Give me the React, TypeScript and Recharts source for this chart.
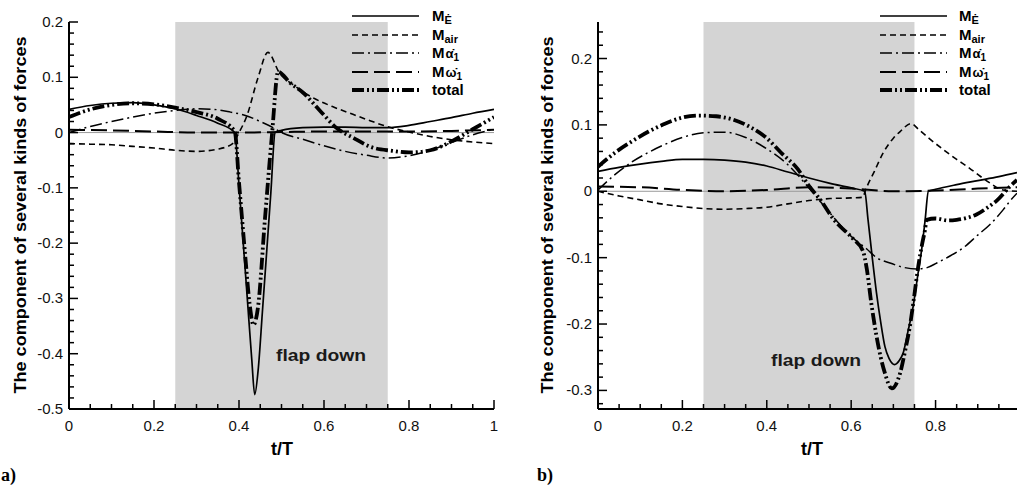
import React from "react";
import { LineChart, Line, XAxis, YAxis, ReferenceArea, ReferenceLine } from "recharts";

type Pt = [number, number];

// ── panel a) : [t/T, value] ─────────────────────────────────────────────────
const ME_A: Pt[] = [
  [0, 0.042], [0.05, 0.049], [0.1, 0.053], [0.15, 0.054], [0.2, 0.05], [0.25, 0.043],
  [0.3, 0.031], [0.35, 0.017], [0.39, 0.0], [0.4, -0.095], [0.41, -0.2], [0.42, -0.305],
  [0.43, -0.41], [0.437, -0.474], [0.445, -0.43], [0.455, -0.325], [0.465, -0.217],
  [0.475, -0.108], [0.485, 0.0], [0.5, 0.004], [0.55, 0.009], [0.6, 0.01], [0.65, 0.01],
  [0.7, 0.009], [0.75, 0.009], [0.8, 0.013], [0.85, 0.02], [0.9, 0.027], [0.95, 0.035], [1, 0.042],
];
const MAIR_A: Pt[] = [
  [0, -0.02], [0.05, -0.021], [0.1, -0.022], [0.15, -0.025], [0.2, -0.028], [0.25, -0.032],
  [0.3, -0.034], [0.35, -0.03], [0.385, -0.02], [0.4, 0.0], [0.418, 0.029], [0.445, 0.1],
  [0.468, 0.145], [0.495, 0.108], [0.53, 0.085], [0.574, 0.063], [0.62, 0.047], [0.668, 0.033],
  [0.71, 0.021], [0.748, 0.011], [0.8, 0.001], [0.85, -0.007], [0.9, -0.013], [0.95, -0.017], [1, -0.02],
];
const MALPHA_A: Pt[] = [
  [0, 0.0], [0.05, 0.011], [0.1, 0.02], [0.15, 0.028], [0.2, 0.035], [0.25, 0.04], [0.3, 0.043],
  [0.34, 0.042], [0.38, 0.037], [0.415, 0.031], [0.45, 0.02], [0.48, 0.009], [0.5, 0.0],
  [0.55, -0.012], [0.6, -0.024], [0.65, -0.034], [0.7, -0.041], [0.75, -0.046], [0.8, -0.042],
  [0.85, -0.032], [0.9, -0.018], [0.95, -0.004], [1, 0.006],
];
const MOMEGA_A: Pt[] = [
  [0, 0.005], [0.1, 0.004], [0.2, 0.002], [0.3, 0.0], [0.4, 0.0], [0.5, 0.001], [0.6, 0.002],
  [0.7, 0.002], [0.8, 0.002], [0.9, 0.003], [1, 0.005],
];
const TOTAL_A: Pt[] = [
  [0, 0.028], [0.05, 0.042], [0.1, 0.05], [0.15, 0.053], [0.2, 0.051], [0.25, 0.045], [0.3, 0.037],
  [0.35, 0.025], [0.39, 0.002], [0.4, -0.09], [0.414, -0.217], [0.425, -0.31], [0.434, -0.348],
  [0.445, -0.314], [0.461, -0.157], [0.478, 0.0], [0.492, 0.11], [0.52, 0.09], [0.551, 0.072],
  [0.59, 0.04], [0.63, 0.008], [0.67, -0.01], [0.71, -0.026], [0.76, -0.033], [0.8, -0.036],
  [0.85, -0.032], [0.9, -0.016], [0.95, 0.006], [1, 0.028],
];

// ── panel b) ────────────────────────────────────────────────────────────────
const ME_B: Pt[] = [
  [0, 0.03], [0.05, 0.036], [0.1, 0.041], [0.15, 0.045], [0.2, 0.048], [0.25, 0.048], [0.3, 0.047],
  [0.35, 0.044], [0.4, 0.038], [0.45, 0.029], [0.5, 0.02], [0.55, 0.012], [0.6, 0.005], [0.632, 0.0],
  [0.64, -0.043], [0.65, -0.1], [0.66, -0.153], [0.67, -0.197], [0.68, -0.234], [0.69, -0.252],
  [0.703, -0.261], [0.714, -0.255], [0.724, -0.242], [0.735, -0.21], [0.747, -0.173], [0.757, -0.13],
  [0.767, -0.088], [0.775, -0.045], [0.783, 0.0], [0.8, 0.003], [0.85, 0.01], [0.9, 0.016],
  [0.95, 0.022], [0.993, 0.028],
];
const MAIR_B: Pt[] = [
  [0, 0.0], [0.05, -0.007], [0.1, -0.013], [0.15, -0.019], [0.2, -0.023], [0.25, -0.026], [0.3, -0.027],
  [0.35, -0.026], [0.4, -0.024], [0.45, -0.019], [0.5, -0.014], [0.55, -0.011], [0.6, -0.01],
  [0.628, -0.009], [0.633, 0.0], [0.655, 0.03], [0.676, 0.058], [0.7, 0.08], [0.716, 0.09],
  [0.742, 0.102], [0.76, 0.093], [0.786, 0.079], [0.82, 0.062], [0.85, 0.048], [0.88, 0.035],
  [0.905, 0.023], [0.93, 0.012], [0.95, 0.004], [0.97, 0.001], [0.993, 0.0],
];
const MALPHA_B: Pt[] = [
  [0, 0.002], [0.04, 0.025], [0.08, 0.044], [0.118, 0.058], [0.16, 0.071], [0.2, 0.081], [0.25, 0.088],
  [0.3, 0.089], [0.35, 0.081], [0.4, 0.064], [0.45, 0.04], [0.5, 0.005], [0.55, -0.033], [0.6, -0.068],
  [0.637, -0.087], [0.66, -0.1], [0.692, -0.108], [0.72, -0.114], [0.755, -0.117], [0.78, -0.115],
  [0.803, -0.108], [0.83, -0.099], [0.866, -0.085], [0.9, -0.066], [0.929, -0.05], [0.96, -0.028],
  [0.976, -0.015], [0.993, -0.003],
];
const MOMEGA_B: Pt[] = [
  [0, 0.007], [0.1, 0.006], [0.2, 0.002], [0.3, 0.0], [0.4, 0.002], [0.5, 0.006], [0.6, 0.004],
  [0.7, 0.0], [0.8, 0.001], [0.9, 0.004], [0.993, 0.006],
];
const TOTAL_B: Pt[] = [
  [0, 0.037], [0.04, 0.058], [0.08, 0.075], [0.12, 0.09], [0.16, 0.102], [0.2, 0.111], [0.24, 0.114],
  [0.28, 0.113], [0.32, 0.108], [0.36, 0.097], [0.4, 0.08], [0.434, 0.058], [0.474, 0.033],
  [0.5, 0.008], [0.526, -0.012], [0.558, -0.042], [0.605, -0.072], [0.628, -0.09], [0.637, -0.117],
  [0.648, -0.17], [0.66, -0.218], [0.67, -0.25], [0.68, -0.274], [0.696, -0.297], [0.716, -0.274],
  [0.728, -0.24], [0.739, -0.204], [0.749, -0.16], [0.759, -0.113], [0.768, -0.08], [0.775, -0.058],
  [0.779, -0.043], [0.8, -0.041], [0.83, -0.044], [0.85, -0.043], [0.875, -0.04], [0.897, -0.035],
  [0.92, -0.026], [0.945, -0.014], [0.976, 0.007], [0.993, 0.017],
];

// axis labels
const A_X_MAJOR = [0, 0.2, 0.4, 0.6, 0.8, 1];
const A_Y_MAJOR = [-0.5, -0.4, -0.3, -0.2, -0.1, 0, 0.1, 0.2];
const B_X_MAJOR = [0, 0.2, 0.4, 0.6, 0.8];
const B_Y_MAJOR = [-0.3, -0.2, -0.1, 0, 0.1, 0.2];
const FLAP = [0.25, 0.75];

const FONT = "'Liberation Sans', Arial, sans-serif";

const STYLES = {
  me: { dash: undefined as string | undefined, width: 1.7 },
  air: { dash: "6 4", width: 1.6 },
  alpha: { dash: "12 4 2 4", width: 1.5 },
  omega: { dash: "16 6", width: 2 },
  total: { dash: "12 3 2 3 2 3", width: 3.8 },
};
type Key = keyof typeof STYLES;
const ORDER: Key[] = ["me", "air", "alpha", "omega", "total"];

function range(a: number, b: number, step: number) {
  const out: number[] = [];
  for (let i = 0; a + i * step <= b + 1e-9; i++) out.push(+(a + i * step).toFixed(4));
  return out;
}
// minor ticks plus the labelled major ones
const withMinor = (major: number[], lo: number, hi: number, step: number) =>
  Array.from(new Set([...range(lo, hi, step), ...major])).sort((p, q) => p - q);
const isIn = (v: number, list: number[]) => list.some((m) => Math.abs(m - v) < 1e-6);
const fmt = (v: number) => String(parseFloat(v.toFixed(2)));
const rows = (pts: Pt[]) => pts.map(([t, v]) => ({ t, v }));

function makeXTick(major: number[]) {
  return (p: any) => {
    const { x, y, payload } = p;
    const isMajor = isIn(payload.value, major);
    return (
      <g>
        <line x1={x} y1={y} x2={x} y2={y - (isMajor ? 9 : 5)} stroke="#000" strokeWidth={1.5} />
        {isMajor && (
          <text x={x} y={y + 22} textAnchor="middle" fontSize={15} fontFamily={FONT} fill="#111">
            {fmt(payload.value)}
          </text>
        )}
      </g>
    );
  };
}

function makeYTick(major: number[]) {
  return (p: any) => {
    const { x, y, payload } = p;
    const isMajor = isIn(payload.value, major);
    return (
      <g>
        <line x1={x} y1={y} x2={x + (isMajor ? 9 : 5)} y2={y} stroke="#000" strokeWidth={1.5} />
        {isMajor && (
          <text x={x - 6} y={y + 5} textAnchor="end" fontSize={15} fontFamily={FONT} fill="#111">
            {fmt(payload.value)}
          </text>
        )}
      </g>
    );
  };
}

function Panel({
  left, width, yAxisW, xDomain, yDomain, xMajor, yMajor, xTicks, yTicks, series,
}: {
  left: number; width: number; yAxisW: number;
  xDomain: [number, number]; yDomain: [number, number];
  xMajor: number[]; yMajor: number[]; xTicks: number[]; yTicks: number[];
  series: Record<Key, Pt[]>;
}) {
  return (
    <div style={{ position: "absolute", left, top: 0 }}>
      <LineChart width={width} height={488} margin={{ top: 22, right: left === 0 ? 6 : 0, bottom: 49, left: 0 }}>
        <ReferenceArea x1={FLAP[0]} x2={FLAP[1]} fill="#d4d4d4" fillOpacity={1} stroke="none" />
        <ReferenceLine y={0} stroke="#9a9a9a" strokeWidth={1} />
        {ORDER.map((k) => (
          <Line
            key={k}
            data={rows(series[k])}
            dataKey="v"
            type="monotone"
            stroke="#000"
            strokeWidth={STYLES[k].width}
            strokeDasharray={STYLES[k].dash}
            dot={false}
            activeDot={false}
            isAnimationActive={false}
          />
        ))}
        <XAxis
          type="number" dataKey="t" domain={xDomain} ticks={xTicks} interval={0}
          allowDataOverflow height={30} tickSize={0} tickMargin={0} tickLine={false}
          axisLine={{ stroke: "#000", strokeWidth: 2 }} tick={makeXTick(xMajor)}
        />
        <YAxis
          type="number" domain={yDomain} ticks={yTicks} interval={0}
          allowDataOverflow width={yAxisW} tickSize={0} tickMargin={0} tickLine={false}
          axisLine={{ stroke: "#000", strokeWidth: 2 }} tick={makeYTick(yMajor)}
        />
      </LineChart>
    </div>
  );
}

function legendLabel(k: Key) {
  const sub = { fontSize: 11 };
  switch (k) {
    case "me":
      return <><tspan>M</tspan><tspan {...sub} dy={3}>Ė</tspan></>;
    case "air":
      return <><tspan>M</tspan><tspan {...sub} dy={3}>air</tspan></>;
    case "alpha":
      return <><tspan>M</tspan><tspan fontSize={13} dx={1}>α̇</tspan><tspan fontSize={10} dy={3}>1</tspan></>;
    case "omega":
      return <><tspan>M</tspan><tspan fontSize={13} dx={1}>ω̇</tspan><tspan fontSize={10} dy={3}>1</tspan></>;
    default:
      return <tspan>total</tspan>;
  }
}

const LEGEND_ROWS = [16, 35, 53, 72, 90];

function Legend({ x0, x1, tx }: { x0: number; x1: number; tx: number }) {
  return (
    <g>
      {ORDER.map((k, i) => (
        <g key={k}>
          <line x1={x0} x2={x1} y1={LEGEND_ROWS[i]} y2={LEGEND_ROWS[i]} stroke="#000"
            strokeWidth={STYLES[k].width} strokeDasharray={STYLES[k].dash} />
          <text x={tx} y={LEGEND_ROWS[i] + 5} fontSize={15} fontWeight="bold" fontFamily={FONT}>
            {legendLabel(k)}
          </text>
        </g>
      ))}
    </g>
  );
}

export default function App() {
  const seriesA = { me: ME_A, air: MAIR_A, alpha: MALPHA_A, omega: MOMEGA_A, total: TOTAL_A };
  const seriesB = { me: ME_B, air: MAIR_B, alpha: MALPHA_B, omega: MOMEGA_B, total: TOTAL_B };
  const title = "The component of several kinds of forces";
  return (
    <div style={{ position: "absolute", left: 0, top: 0, width: 1017, height: 488, background: "#fff", overflow: "hidden" }}>
      <Panel left={0} width={500} yAxisW={69} xDomain={[0, 1]} yDomain={[-0.5, 0.2]}
        xMajor={A_X_MAJOR} yMajor={A_Y_MAJOR}
        xTicks={withMinor(A_X_MAJOR, 0, 1, 0.05)} yTicks={withMinor(A_Y_MAJOR, -0.5, 0.2, 0.02)} series={seriesA} />
      <Panel left={500} width={517} yAxisW={98} xDomain={[0, 0.993]} yDomain={[-0.328, 0.255]}
        xMajor={B_X_MAJOR} yMajor={B_Y_MAJOR}
        xTicks={withMinor(B_X_MAJOR, 0, 0.95, 0.05)} yTicks={withMinor(B_Y_MAJOR, -0.32, 0.24, 0.02)} series={seriesB} />
      <svg width={1017} height={488} style={{ position: "absolute", left: 0, top: 0, pointerEvents: "none" }}>
        <Legend x0={352} x1={419} tx={432} />
        <Legend x0={880} x1={947} tx={959} />
        {[20, 547].map((cx) => (
          <text key={cx} transform={`translate(${cx},215) rotate(-90)`} textAnchor="middle" dy={6}
            fontSize={17} fontWeight="bold" fontFamily={FONT} textLength={357} lengthAdjust="spacingAndGlyphs">
            {title}
          </text>
        ))}
        <text x={282} y={455} textAnchor="middle" fontSize={18} fontWeight="bold" fontFamily={FONT}>t/T</text>
        <text x={812} y={455} textAnchor="middle" fontSize={18} fontWeight="bold" fontFamily={FONT}>t/T</text>
        <text x={321} y={361} textAnchor="middle" fontSize={17} fontWeight="bold" fontFamily={FONT} fill="#1a1a1a"
          textLength={90} lengthAdjust="spacingAndGlyphs">flap down</text>
        <text x={816} y={366} textAnchor="middle" fontSize={17} fontWeight="bold" fontFamily={FONT} fill="#1a1a1a"
          textLength={90} lengthAdjust="spacingAndGlyphs">flap down</text>
        <text x={1} y={481} fontSize={18} fontWeight="bold" fontFamily="'Liberation Serif', serif">a)</text>
        <text x={537} y={481} fontSize={18} fontWeight="bold" fontFamily="'Liberation Serif', serif">b)</text>
      </svg>
    </div>
  );
}
